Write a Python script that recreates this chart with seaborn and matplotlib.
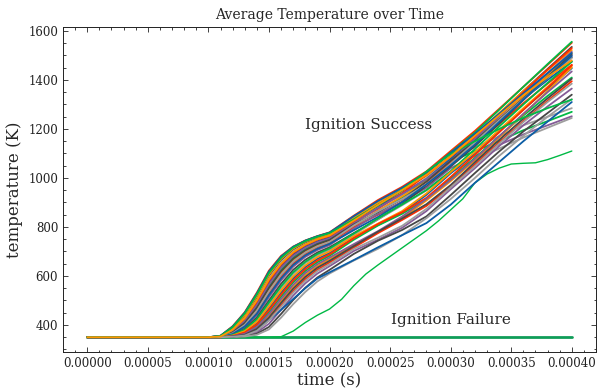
import pandas as pd
import matplotlib
matplotlib.use("Agg")
import matplotlib.pyplot as plt
import seaborn as sns
from matplotlib.ticker import AutoMinorLocator, FormatStrFormatter

# sample times (s)
time = [0.0, 0.0001, 0.00011, 0.00012, 0.00013, 0.00014, 0.00015, 0.00016,
        0.00017, 0.00018, 0.00019, 0.0002, 0.00022, 0.00024, 0.00026,
        0.00028, 0.0003, 0.00032, 0.00034, 0.00036, 0.00038, 0.0004]

# average temperature (K) of the runs that ignited
success_runs = [
    [350, 350, 356, 395, 452, 532, 622, 682, 720, 745, 763, 778, 846, 910, 964, 1027, 1110, 1192, 1282, 1372, 1462, 1552],
    [350, 350, 355, 390, 445, 522, 612, 675, 715, 742, 760, 774, 829, 886, 949, 1024, 1100, 1172, 1255, 1338, 1420, 1500],
    [350, 350, 354, 386, 438, 512, 600, 665, 708, 736, 755, 770, 830, 893, 952, 1011, 1086, 1170, 1262, 1355, 1445, 1535],
    [350, 350, 353, 382, 430, 502, 590, 655, 700, 730, 750, 765, 828, 878, 931, 1001, 1082, 1125, 1170, 1215, 1250, 1285],
    [350, 350, 352, 376, 420, 488, 572, 640, 688, 720, 742, 758, 826, 886, 937, 995, 1078, 1158, 1240, 1322, 1400, 1475],
    [350, 350, 352, 372, 412, 476, 558, 626, 676, 710, 734, 750, 807, 861, 921, 994, 1067, 1110, 1150, 1195, 1232, 1270],
    [350, 350, 351, 368, 404, 464, 544, 612, 664, 700, 726, 743, 805, 867, 925, 986, 1061, 1148, 1240, 1330, 1420, 1510],
    [350, 350, 351, 365, 398, 452, 530, 598, 652, 690, 717, 735, 799, 850, 903, 975, 1060, 1135, 1220, 1305, 1385, 1462],
    [350, 350, 351, 362, 390, 440, 514, 582, 638, 678, 706, 726, 794, 853, 902, 960, 1040, 1090, 1135, 1178, 1215, 1252],
    [350, 350, 350, 360, 384, 430, 500, 568, 625, 666, 696, 717, 775, 831, 894, 968, 1047, 1130, 1222, 1318, 1412, 1505],
    [350, 350, 350, 358, 378, 418, 484, 550, 608, 652, 684, 706, 768, 831, 889, 949, 1024, 1075, 1120, 1165, 1205, 1245],
    [350, 350, 350, 356, 372, 408, 468, 532, 590, 636, 670, 694, 757, 808, 859, 931, 1019, 1100, 1190, 1280, 1365, 1448],
    [350, 350, 350, 355, 367, 398, 452, 515, 574, 620, 656, 682, 748, 806, 854, 913, 998, 1082, 1170, 1255, 1335, 1410],
    [350, 350, 350, 354, 362, 388, 436, 498, 556, 604, 641, 669, 725, 778, 837, 908, 987, 1072, 1165, 1260, 1355, 1452],
    [350, 350, 350, 353, 358, 378, 420, 480, 538, 587, 626, 655, 716, 775, 829, 886, 964, 1055, 1145, 1232, 1315, 1395],
    [350, 350, 350, 352, 356, 370, 405, 462, 520, 570, 610, 640, 702, 748, 797, 865, 954, 1040, 1130, 1215, 1292, 1365],
    [350, 350, 350, 351, 354, 364, 392, 445, 502, 552, 594, 625, 690, 744, 788, 843, 930, 1020, 1108, 1190, 1265, 1340],
    [350, 350, 350, 351, 353, 360, 382, 430, 485, 535, 578, 610, 663, 711, 767, 836, 914, 1000, 1090, 1172, 1250, 1322],
    [350, 350, 350, 352, 360, 378, 420, 462, 506, 550, 590, 615, 665, 717, 767, 816, 891, 980, 1065, 1150, 1230, 1310],
    [350, 350, 355, 392, 448, 526, 616, 678, 718, 744, 762, 776, 838, 892, 948, 1021, 1104, 1185, 1278, 1372, 1465, 1556],
    [350, 350, 354, 388, 442, 518, 606, 670, 712, 740, 758, 772, 839, 900, 952, 1010, 1090, 1175, 1265, 1355, 1440, 1522],
    [350, 350, 352, 378, 424, 494, 580, 646, 694, 726, 748, 763, 819, 875, 939, 1012, 1088, 1168, 1258, 1350, 1442, 1530],
    [350, 350, 352, 374, 416, 482, 565, 633, 682, 715, 738, 754, 815, 877, 935, 995, 1070, 1160, 1250, 1340, 1428, 1515],
    [350, 350, 351, 370, 408, 470, 551, 619, 670, 705, 730, 747, 810, 861, 913, 985, 1070, 1150, 1238, 1325, 1410, 1492],
    [350, 350, 351, 366, 400, 458, 537, 605, 658, 695, 721, 739, 806, 864, 914, 973, 1058, 1145, 1235, 1322, 1408, 1490],
    [350, 350, 351, 363, 394, 446, 522, 590, 645, 684, 711, 731, 787, 841, 902, 974, 1052, 1136, 1228, 1320, 1410, 1498],
    [350, 350, 350, 359, 381, 424, 492, 558, 615, 658, 690, 712, 773, 835, 892, 951, 1028, 1118, 1210, 1300, 1388, 1475],
    [350, 350, 350, 357, 375, 413, 476, 541, 598, 643, 677, 700, 762, 814, 865, 937, 1024, 1106, 1196, 1285, 1372, 1458],
    [350, 350, 350, 355, 369, 402, 460, 524, 582, 628, 663, 688, 754, 812, 860, 919, 1004, 1094, 1186, 1278, 1368, 1460],
    [350, 350, 350, 354, 364, 392, 444, 506, 564, 612, 648, 675, 730, 783, 843, 914, 992, 1078, 1170, 1262, 1350, 1435],
    [350, 350, 350, 353, 360, 384, 430, 490, 548, 596, 634, 662, 722, 781, 835, 893, 971, 1064, 1155, 1242, 1325, 1405],
    [350, 350, 350, 352, 357, 376, 418, 474, 532, 580, 620, 648, 710, 756, 805, 874, 962, 1048, 1140, 1228, 1310, 1385],
    [350, 350, 356, 393, 450, 528, 618, 679, 719, 744, 762, 777, 844, 906, 960, 1021, 1102, 1180, 1262, 1345, 1428, 1510],
    [350, 350, 355, 391, 447, 524, 612, 674, 716, 742, 760, 775, 831, 888, 953, 1026, 1098, 1150, 1200, 1246, 1285, 1320],
    [350, 350, 353, 380, 428, 500, 586, 650, 697, 728, 750, 765, 826, 890, 951, 1013, 1088, 1172, 1256, 1338, 1412, 1480],
]

# the one run that ignited late
slow_time = [0.0, 0.00015, 0.00016, 0.00017, 0.00018, 0.00019, 0.0002, 0.00021,
             0.00022, 0.00023, 0.00024, 0.00025, 0.00026, 0.00027, 0.00028,
             0.00029, 0.0003, 0.00031, 0.00032, 0.00033, 0.00034, 0.00035,
             0.00036, 0.00037, 0.00038, 0.00039, 0.0004]
slow_run = [350, 350, 352, 375, 410, 440, 465, 505, 560, 608, 645, 680, 715,
            750, 785, 825, 870, 915, 980, 1016, 1040, 1057, 1060, 1062, 1075,
            1092, 1110]

# runs that never ignited
failure_time = [0.0, 0.0004]
failure_run = [350, 350]

science_colors = ["#0C5DA5", "#00B945", "#FF9500", "#FF2C00",
                  "#845B97", "#474747", "#9e9e9e"]

rows = []
for i, run in enumerate(success_runs):
    for t, T in zip(time, run):
        rows.append({"run": i, "time": t, "temperature": T})
df = pd.DataFrame(rows)

sns.set_theme(style="ticks")
plt.rcParams["font.family"] = "DejaVu Serif"
plt.rcParams["mathtext.fontset"] = "dejavuserif"

fig, ax = plt.subplots(figsize=(5.98, 3.89), dpi=100)
fig.subplots_adjust(left=0.1054, right=0.9967, top=0.9306, bottom=0.0951)

sns.lineplot(x=failure_time, y=failure_run, color="#0f9d58", linewidth=2.0, ax=ax)
sns.lineplot(x=slow_time, y=slow_run, color="#00B945", linewidth=1.0, ax=ax)

palette = [science_colors[(i + 3) % len(science_colors)] for i in range(len(success_runs))]
sns.lineplot(data=df, x="time", y="temperature", hue="run", palette=palette,
             legend=False, linewidth=1.3, ax=ax)

ax.text(0.000232, 1215, "Ignition Success", fontsize=11, ha="center", va="center")
ax.text(0.0003, 420, "Ignition Failure", fontsize=11, ha="center", va="center")

ax.set_title("Average Temperature over Time", fontsize=10)
ax.set_xlabel("time (s)", fontsize=12, labelpad=2)
ax.set_ylabel("temperature (K)", fontsize=12, labelpad=4)
ax.xaxis.set_major_formatter(FormatStrFormatter("%.5f"))
ax.xaxis.set_minor_locator(AutoMinorLocator())
ax.yaxis.set_minor_locator(AutoMinorLocator())
ax.tick_params(which="both", direction="in", top=True, right=True, width=0.6,
               labelsize=8.5, colors="#222222")
ax.tick_params(which="major", length=3.5)
ax.tick_params(which="minor", length=1.8)
for s in ax.spines.values():
    s.set_linewidth(0.7)
    s.set_color("#222222")

fig.savefig("out.png", dpi=100)
